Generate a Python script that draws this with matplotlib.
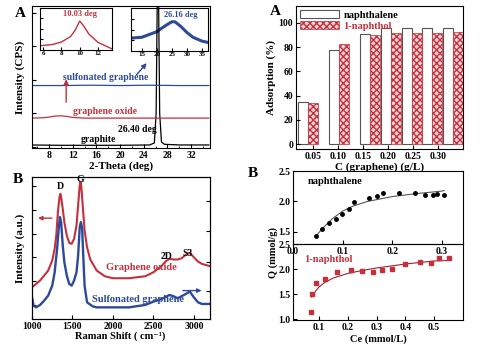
import numpy as np
import matplotlib
matplotlib.use('Agg')
import matplotlib.pyplot as plt
from matplotlib.patches import Patch

plt.rcParams['font.family'] = ['Liberation Serif', 'DejaVu Serif']
plt.rcParams['font.weight'] = 'bold'
plt.rcParams['axes.labelweight'] = 'bold'
plt.rcParams['font.size'] = 7
plt.rcParams['xtick.direction'] = 'in'
plt.rcParams['ytick.direction'] = 'in'
plt.rcParams['hatch.linewidth'] = 1.0
plt.rcParams['axes.linewidth'] = 0.8

RED = '#c4303c'
BLUE = '#2d4a9a'

# ---- XRD data ----
graphite_x = [5, 10, 20, 25, 25.8, 26.1, 26.3, 26.5, 26.7, 27.0, 27.5, 30, 35]
graphite_y = [0.06, 0.05, 0.05, 0.06, 0.12, 1.0, 4.6, 4.6, 1.0, 0.15, 0.08, 0.06, 0.06]
go_x = [5, 7, 8, 9, 10, 11, 12, 14, 20, 30, 35]
go_y = [0.86, 0.87, 0.89, 0.92, 0.93, 0.91, 0.88, 0.86, 0.86, 0.86, 0.86]
sg_x = [5, 10, 15, 20, 25, 30, 35]
sg_y = [1.83, 1.83, 1.84, 1.83, 1.84, 1.83, 1.83]
ins1_x = [5.6, 7, 8, 9, 9.5, 10, 10.5, 11, 12, 13, 13.5]
ins1_y = [0.10, 0.13, 0.19, 0.32, 0.47, 0.69, 0.55, 0.38, 0.18, 0.08, 0.03]
ins2_x = [11.4, 15, 20, 22, 24, 25, 26, 28, 30, 32, 35, 37]
ins2_y = [0.30, 0.32, 0.45, 0.55, 0.64, 0.68, 0.68, 0.57, 0.43, 0.32, 0.23, 0.20]

# ---- adsorption bars ----
conc = [0.04, 0.102, 0.164, 0.206, 0.248, 0.288, 0.33]
naphthalene = [35, 77.7, 90.9, 95.6, 95.6, 95.6, 95.6]
naphthol = [33.6, 82.6, 90.1, 91.5, 91.5, 92.0, 92.3]
conc_ticks = [0.05, 0.10, 0.15, 0.20, 0.25, 0.30]
conc_labels = ['0.05', '0.10', '0.15', '0.20', '0.25', '0.30']

# ---- Raman (intensity as fraction of the plot height) ----
go_raman_x = [1000, 1050, 1100, 1150, 1200, 1250, 1280, 1300, 1320, 1340, 1350, 1360,
              1380, 1400, 1430, 1460, 1490, 1520, 1550, 1570, 1590, 1600, 1610, 1630,
              1650, 1680, 1720, 1800, 1900, 2000, 2200, 2400, 2500, 2600, 2650, 2700,
              2750, 2800, 2850, 2900, 2950, 3000, 3050, 3100, 3200]
go_raman_y = [0.224, 0.247, 0.271, 0.306, 0.341, 0.412, 0.494, 0.588, 0.753, 0.859, 0.882, 0.859,
              0.776, 0.682, 0.588, 0.536, 0.529, 0.565, 0.659, 0.800, 0.941, 0.965, 0.929, 0.776,
              0.624, 0.506, 0.419, 0.341, 0.301, 0.287, 0.287, 0.301, 0.329, 0.372, 0.405, 0.424,
              0.419, 0.419, 0.428, 0.452, 0.466, 0.435, 0.405, 0.388, 0.372]
sg_raman_x = [1000, 1020, 1050, 1100, 1150, 1200, 1250, 1280, 1310, 1330, 1345, 1360,
              1380, 1400, 1430, 1460, 1490, 1520, 1550, 1570, 1590, 1605, 1620, 1635,
              1650, 1680, 1750, 1800, 2000, 2200, 2400, 2500, 2600, 2700, 2750, 2800,
              2900, 2950, 3000, 3050, 3100, 3200]
sg_raman_y = [0.153, 0.094, 0.082, 0.099, 0.129, 0.165, 0.235, 0.329, 0.494, 0.635, 0.718, 0.682,
              0.518, 0.400, 0.306, 0.247, 0.235, 0.271, 0.329, 0.447, 0.647, 0.682, 0.635, 0.424,
              0.235, 0.118, 0.089, 0.082, 0.082, 0.082, 0.099, 0.122, 0.141, 0.169, 0.160, 0.146,
              0.176, 0.193, 0.153, 0.118, 0.106, 0.106]

# ---- isotherms ----
nap_ce = [0.046, 0.059, 0.073, 0.086, 0.098, 0.112, 0.123, 0.153, 0.169, 0.182,
          0.214, 0.247, 0.266, 0.282, 0.29, 0.305]
nap_q = [1.43, 1.545, 1.64, 1.705, 1.79, 1.88, 1.99, 2.06, 2.09, 2.14,
         2.14, 2.145, 2.10, 2.10, 2.12, 2.11]
nap_fit_ce = [0.045, 0.06, 0.08, 0.10, 0.12, 0.15, 0.20, 0.25, 0.30, 0.305]
nap_fit_q = [1.42, 1.56, 1.72, 1.84, 1.92, 2.00, 2.08, 2.13, 2.17, 2.18]
nol_ce = [0.071, 0.076, 0.091, 0.122, 0.163, 0.212, 0.25, 0.288, 0.32, 0.355,
          0.40, 0.45, 0.49, 0.516, 0.55]
nol_q = [1.15, 1.50, 1.72, 1.80, 1.95, 1.99, 1.97, 1.95, 1.99, 2.01,
         2.10, 2.15, 2.12, 2.22, 2.22]
nol_fit_ce = [0.075, 0.09, 0.10, 0.12, 0.15, 0.20, 0.25, 0.30, 0.35, 0.40, 0.45, 0.50, 0.55]
nol_fit_q = [1.45, 1.58, 1.65, 1.74, 1.83, 1.92, 1.98, 2.03, 2.07, 2.11, 2.14, 2.17, 2.18]

fig = plt.figure(figsize=(5, 3.44), dpi=100)

# ================= XRD =================
in1 = fig.add_axes([0.079, 0.8547, 0.1444, 0.1221])
in1.plot(ins1_x, ins1_y, color=RED, lw=1.0)
in1.set_xlim(5.6, 13.5)
in1.set_ylim(0, 1)
in1.set_xticks([6, 8, 10, 12])
in1.set_yticks([0.25, 0.5, 0.75])
in1.set_yticklabels([])
in1.tick_params(labelsize=5, length=2, pad=1)
in1.text(10.0, 0.8, '10.03 deg', color=RED, ha='center', fontsize=6)

in2 = fig.add_axes([0.262, 0.8517, 0.154, 0.125])
in2.plot(ins2_x, ins2_y, color=BLUE, lw=2.2)
in2.set_xlim(11.4, 37)
in2.set_ylim(0, 1)
in2.set_xticks([15, 20, 25, 30, 35])
in2.set_yticks([0.25, 0.5, 0.75])
in2.set_yticklabels([])
in2.tick_params(labelsize=5, length=2, pad=1)
in2.text(28.0, 0.8, '26.16 deg', color=BLUE, ha='center', fontsize=6)

ax1 = fig.add_axes([0.064, 0.5698, 0.356, 0.4128])
ax1.patch.set_alpha(0)
ax1.plot(graphite_x, graphite_y, color='black', lw=0.9)
ax1.plot(go_x, go_y, color=RED, lw=0.9)
ax1.plot(sg_x, sg_y, color=BLUE, lw=0.9)
ax1.set_xlim(5.13, 35.2)
ax1.set_ylim(-0.03, 4.2)
ax1.set_xticks([8, 12, 16, 20, 24, 28, 32])
ax1.set_xticks(np.arange(6, 35, 2), minor=True)
ax1.set_yticks([0, 1, 2, 3, 4])
ax1.set_yticklabels([])
ax1.tick_params(length=3, pad=2)
ax1.tick_params(which='minor', length=1.5)
ax1.set_xlabel('2-Theta (deg)', fontsize=8, labelpad=1)
ax1.set_ylabel('Intensity (CPS)', fontsize=8, labelpad=3)
ax1.text(17.5, 2.06, 'sulfonated graphene', color=BLUE, ha='center', va='center', fontsize=7)
ax1.text(17.5, 1.05, 'graphene oxide', color=RED, ha='center', va='center', fontsize=7)
ax1.text(23.0, 0.51, '26.40 deg', color='black', ha='center', va='center', fontsize=7)
ax1.text(16.3, 0.21, 'graphite', color='black', ha='center', va='center', fontsize=7)
ax1.annotate('', xy=(10.9, 2.1), xytext=(10.9, 1.25),
             arrowprops=dict(arrowstyle='-|>', color=RED, lw=1.0, mutation_scale=7))
ax1.annotate('', xy=(24.8, 2.56), xytext=(22.5, 2.09),
             arrowprops=dict(arrowstyle='-|>', color=BLUE, lw=1.0, mutation_scale=7))
fig.text(0.04, 0.962, 'A', fontsize=11, ha='center', va='center')

# ================= bars =================
ax2 = fig.add_axes([0.592, 0.5669, 0.334, 0.4157])
w = 0.02
xc = np.array(conc)
ax2.bar(xc - w / 2, naphthalene, width=w, color='white', edgecolor='#555555', lw=0.8)
ax2.bar(xc + w / 2, naphthol, width=w, color='#f2d4d6', edgecolor=RED, lw=0.5, hatch='xxxxx')
ax2.set_xlim(0.016, 0.35)
ax2.set_ylim(-4, 114)
ax2.set_xticks(conc_ticks)
ax2.set_xticklabels(conc_labels)
ax2.set_yticks([0, 20, 40, 60, 80, 100])
ax2.tick_params(length=3, pad=2)
ax2.set_xlabel('C (graphene) (g/L)', fontsize=8, labelpad=1)
ax2.set_ylabel('Adsorption (%)', fontsize=8, labelpad=2)
handles = [Patch(facecolor='white', edgecolor='#555555', lw=0.8),
           Patch(facecolor='#f2d4d6', edgecolor=RED, lw=0.5, hatch='xxxxx')]
leg = ax2.legend(handles, ['naphthalene', '1-naphthol'], loc='upper left', frameon=False,
                 fontsize=7.5, handlelength=3.8, handleheight=0.9, borderaxespad=0.15,
                 labelspacing=0.1, handletextpad=0.4, borderpad=0.2)
leg.get_texts()[1].set_color(RED)
fig.text(0.55, 0.968, 'A', fontsize=11, ha='center', va='center')

# ================= Raman =================
ax3 = fig.add_axes([0.064, 0.0727, 0.356, 0.4128])
ax3.plot(go_raman_x, go_raman_y, color=RED, lw=1.5)
ax3.plot(sg_raman_x, sg_raman_y, color=BLUE, lw=1.7)
ax3.set_xlim(1000, 3200)
ax3.set_ylim(0, 1)
ax3.set_xticks([1000, 1500, 2000, 2500, 3000])
ax3.set_yticks([0.1, 0.27, 0.44, 0.6, 0.77, 0.94])
ax3.set_yticklabels([])
ax3.tick_params(length=3, pad=2)
tw = ax3.twinx()
tw.set_ylim(0, 1)
tw.set_yticks([0.2, 0.4, 0.62, 0.83])
tw.set_yticklabels([])
tw.tick_params(length=3)
fig.text(0.24, 0.024, 'Raman Shift ( cm\u207b\u00b9)', fontsize=7.5, ha='center', va='center')
ax3.set_ylabel('Intensity (a.u.)', fontsize=8, labelpad=3)
ax3.text(1350, 0.93, 'D', ha='center', va='center', fontsize=7)
ax3.text(1597, 0.985, 'G', ha='center', va='center', fontsize=7)
ax3.text(2660, 0.44, '2D', ha='center', va='center', fontsize=7)
ax3.text(2927, 0.46, 'S3', ha='center', va='center', fontsize=7)
ax3.text(2350, 0.36, 'Graphene oxide', color=RED, ha='center', va='center', fontsize=7.5)
ax3.text(2310, 0.14, 'Sulfonated graphene', color=BLUE, ha='center', va='center', fontsize=7.5)
ax3.annotate('', xy=(1040, 0.71), xytext=(1280, 0.71),
             arrowprops=dict(arrowstyle='-|>', color=RED, lw=1.0, mutation_scale=6))
ax3.annotate('', xy=(3130, 0.2), xytext=(2830, 0.2),
             arrowprops=dict(arrowstyle='-|>', color=BLUE, lw=1.0, mutation_scale=6))
fig.text(0.036, 0.477, 'B', fontsize=11, ha='center', va='center')

# ================= isotherms =================
ax4 = fig.add_axes([0.586, 0.2907, 0.34, 0.212])
ax4.plot(nap_fit_ce, nap_fit_q, color='#555555', lw=0.8)
ax4.plot(nap_ce, nap_q, 'o', color='black', ms=2.5)
ax4.set_xlim(0, 0.343)
ax4.set_ylim(1.3, 2.5)
ax4.set_xticks([0.0, 0.1, 0.2, 0.3])
ax4.set_yticks([1.5, 2.0, 2.5])
ax4.tick_params(length=3, pad=2)
ax4.text(0.03, 2.33, 'naphthalene', ha='left', va='center', fontsize=7.5)

ax5 = fig.add_axes([0.586, 0.0698, 0.34, 0.2209])
ax5.patch.set_alpha(0)
ax5.plot(nol_fit_ce, nol_fit_q, color='#a02030', lw=0.8)
ax5.plot(nol_ce, nol_q, 's', color=RED, ms=2.3)
ax5.set_xlim(0.01, 0.6)
ax5.set_ylim(0.99, 2.51)
ax5.set_xticks([0.1, 0.2, 0.3, 0.4, 0.5])
ax5.set_yticks([1.0, 1.5, 2.0, 2.5])
ax5.tick_params(length=3, pad=2)
ax5.text(0.05, 2.20, '1-naphthol', color=RED, ha='left', va='center', fontsize=7.5)
ax5.set_xlabel('Ce (mmol/L)', fontsize=7.5, labelpad=2)
fig.text(0.546, 0.265, 'Q (mmol/g)', rotation=90, ha='center', va='center', fontsize=7.5)
fig.text(0.506, 0.497, 'B', fontsize=11, ha='center', va='center')

fig.savefig('out.png', dpi=100)
